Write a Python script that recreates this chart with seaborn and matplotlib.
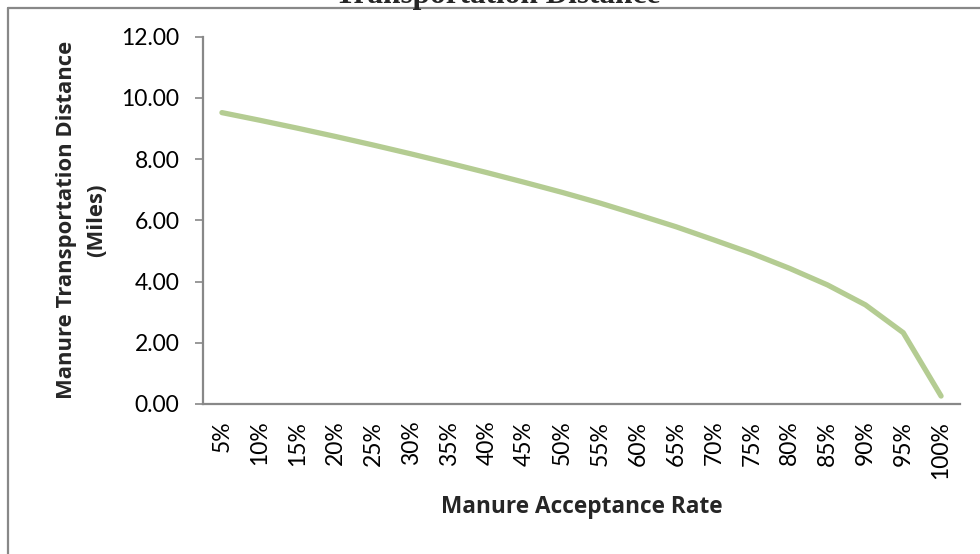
import matplotlib
matplotlib.use("Agg")
import matplotlib.pyplot as plt
import seaborn as sns
import pandas as pd
from matplotlib.lines import Line2D

# Acceptance rate categories and the resulting transport distance (miles)
rates = ["5%", "10%", "15%", "20%", "25%", "30%", "35%", "40%", "45%", "50%",
         "55%", "60%", "65%", "70%", "75%", "80%", "85%", "90%", "95%", "100%"]
distance = [9.52, 9.27, 9.01, 8.74, 8.46, 8.17, 7.87, 7.56, 7.24, 6.91,
            6.56, 6.18, 5.79, 5.36, 4.92, 4.43, 3.89, 3.24, 2.33, 0.26]
y_ticks = [0, 2, 4, 6, 8, 10, 12]

df = pd.DataFrame({"rate": rates, "distance": distance})

sns.set_theme(style="white")
plt.rcParams["font.family"] = ["Lato", "DejaVu Sans"]

fig = plt.figure(figsize=(9.8, 5.54), dpi=100)
ax = fig.add_axes([203 / 980, 150 / 554, 757 / 980, 367.3 / 554])

sns.lineplot(data=df, x="rate", y="distance", ax=ax, color="#b4cc92",
             linewidth=3.8, solid_capstyle="round", solid_joinstyle="round")

ax.set_xlim(-0.5, len(rates) - 0.5)
ax.set_ylim(0, 12)
ax.set_yticks(y_ticks)
ax.set_yticklabels([f"{v:.2f}" for v in y_ticks], fontsize=16.5, color="#000000")
ax.set_xticks(range(len(rates)))
ax.set_xticklabels(rates, rotation=90, fontsize=16.5, color="#000000")

ax.tick_params(axis="y", which="major", direction="out", length=6, width=1.2,
               color="#888888", pad=11, left=True)
ax.tick_params(axis="x", which="major", length=0, pad=12)

for side in ["top", "right"]:
    ax.spines[side].set_visible(False)
for side in ["left", "bottom"]:
    ax.spines[side].set_color("#888888")
    ax.spines[side].set_linewidth(1.6)

label_font = ["Open Sans", "DejaVu Sans"]
ax.set_xlabel("Manure Acceptance Rate", fontsize=16.3, fontweight="bold",
              labelpad=12, family=label_font)
ax.set_ylabel("Manure Transportation Distance\n(Miles)", fontsize=15.8,
              fontweight="bold", labelpad=10, linespacing=1.6, family=label_font)

# Chart title, largely above the visible area
fig.text(498 / 980, 1 - 2.5 / 554, "Transportation Distance",
         ha="center", va="baseline", fontsize=22.5, fontweight="bold",
         family=["Liberation Serif", "DejaVu Serif"])

# Chart frame (left and top edges)
fig.add_artist(Line2D([7.5 / 980, 7.5 / 980], [0, 1 - 8 / 554],
                      transform=fig.transFigure, color="#888888", linewidth=1.6))
fig.add_artist(Line2D([7.5 / 980, 1], [1 - 8 / 554, 1 - 8 / 554],
                      transform=fig.transFigure, color="#888888", linewidth=1.6))

fig.savefig("out.png", dpi=100)
